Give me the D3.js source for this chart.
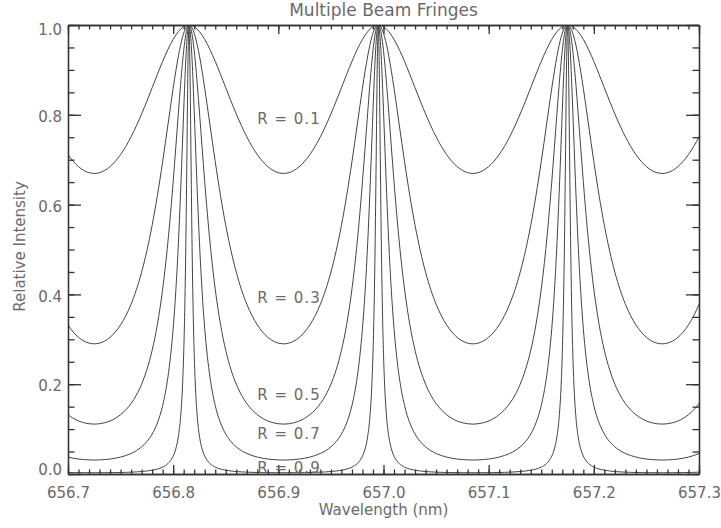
<!DOCTYPE html>
<html>
<head>
<meta charset="utf-8">
<script src="https://cdn.jsdelivr.net/npm/d3@7"></script>
<style>
  body { margin: 0; background: #fff; }
  svg { display: block; }
  text { font-family: "DejaVu Sans", sans-serif; fill: #6a6a6a; }
  .axis path, .axis line { stroke: #333; stroke-width: 1.3; }
  .curve { fill: none; stroke: #444; stroke-width: 1; }
</style>
</head>
<body>
<div id="container"></div>
<script>
// reflectivity of each fringe curve
let reflectivity = [0.1, 0.3, 0.5, 0.7, 0.9]
// fringe peak centres (nm), the outer two lie just off the plot
let peakCentres = [656.635, 656.815, 656.995, 657.175, 657.355]
// distance from a peak (nm) at which the intensity was read
let offsets = [0, 0.001, 0.002, 0.003, 0.004, 0.005, 0.006, 0.008, 0.010, 0.0125,
  0.015, 0.0175, 0.02, 0.025, 0.03, 0.035, 0.04, 0.045, 0.05, 0.055,
  0.06, 0.065, 0.07, 0.075, 0.08, 0.085, 0.09]
// relative intensity at those offsets, one array per R
let r01 = [1, 0.9998, 0.9994, 0.9986, 0.9976, 0.9963, 0.9946, 0.9905, 0.9853, 0.9774,
  0.9680, 0.9573, 0.9454, 0.9190, 0.8901, 0.8602, 0.8305, 0.8020, 0.7753, 0.7511,
  0.7297, 0.7114, 0.6964, 0.6846, 0.6762, 0.6711, 0.6694]
let r03 = [1, 0.9993, 0.9970, 0.9933, 0.9882, 0.9817, 0.9739, 0.9547, 0.9312, 0.8971,
  0.8591, 0.8187, 0.7773, 0.6957, 0.6203, 0.5538, 0.4971, 0.4495, 0.4103, 0.3783,
  0.3525, 0.3321, 0.3162, 0.3044, 0.2963, 0.2915, 0.2899]
let r05 = [1, 0.9976, 0.9904, 0.9786, 0.9625, 0.9427, 0.9196, 0.8658, 0.8057, 0.7274,
  0.6511, 0.5803, 0.5166, 0.4117, 0.3333, 0.2753, 0.2323, 0.2000, 0.1756, 0.1570,
  0.1429, 0.1321, 0.1240, 0.1181, 0.1142, 0.1119, 0.1111]
let r07 = [1, 0.9906, 0.9635, 0.9215, 0.8685, 0.8088, 0.7463, 0.6240, 0.5160, 0.4069,
  0.3242, 0.2623, 0.2156, 0.1525, 0.1139, 0.0890, 0.0722, 0.0604, 0.0519, 0.0457,
  0.0411, 0.0377, 0.0351, 0.0333, 0.0321, 0.0314, 0.0311]
let r09 = [1, 0.9012, 0.6952, 0.5035, 0.3634, 0.2678, 0.2027, 0.1254, 0.0843, 0.0560,
  0.0398, 0.0298, 0.0232, 0.0153, 0.0110, 0.0084, 0.0067, 0.0055, 0.0047, 0.0041,
  0.0037, 0.0034, 0.0031, 0.0030, 0.0029, 0.0028, 0.0028]
let profiles = [r01, r03, r05, r07, r09]
// where each "R = .." note sits, in data units
let labelX = 656.88
let labelY = [0.78, 0.38, 0.165, 0.078, 0.003]
let xTicks = [656.7, 656.8, 656.9, 657.0, 657.1, 657.2, 657.3]
let yTicks = [0.0, 0.2, 0.4, 0.6, 0.8, 1.0]

let width = 721,
  height = 528,
  margin = { top: 25, right: 22, bottom: 54, left: 68 },
  bodyWidth = width - margin.left - margin.right,
  bodyHeight = height - margin.top - margin.bottom

let xScale = d3.scaleLinear().domain([656.7, 657.3]).range([0, bodyWidth]),
  yScale = d3.scaleLinear().domain([0, 1]).range([bodyHeight, 0])

// lay the read profile around every peak
function fringe(profile) {
  let pts = []
  peakCentres.forEach(p => {
    for (let i = offsets.length - 1; i > 0; i--) pts.push([p - offsets[i], profile[i]])
    for (let i = 0; i < offsets.length; i++) pts.push([p + offsets[i], profile[i]])
  })
  return pts.filter((d, i) => i === 0 || Math.abs(d[0] - pts[i - 1][0]) > 1e-9)
}

let line = d3.line()
  .x(d => xScale(d[0]))
  .y(d => yScale(d[1]))
  .curve(d3.curveMonotoneX)

let svg = d3.select('#container')
  .append('svg')
  .attr('width', width)
  .attr('height', height)

svg.append('defs').append('clipPath').attr('id', 'plot')
  .append('rect').attr('width', bodyWidth).attr('height', bodyHeight)

let g = svg.append('g')
  .attr('transform', 'translate(' + margin.left + ', ' + margin.top + ')')

g.append('g')
  .attr('clip-path', 'url(#plot)')
  .selectAll('path')
  .data(profiles)
  .join('path')
  .attr('class', 'curve')
  .attr('d', d => line(fringe(d)))

// minor ticks
let xMinor = xScale.ticks(60), yMinor = yScale.ticks(20)
g.append('g').attr('class', 'axis').attr('transform', 'translate(0, ' + bodyHeight + ')')
  .call(d3.axisBottom(xScale).tickValues(xMinor).tickSize(-4.5).tickSizeOuter(0).tickFormat(''))
g.append('g').attr('class', 'axis')
  .call(d3.axisTop(xScale).tickValues(xMinor).tickSize(-4.5).tickSizeOuter(0).tickFormat(''))
g.append('g').attr('class', 'axis')
  .call(d3.axisLeft(yScale).tickValues(yMinor).tickSize(-6.5).tickSizeOuter(0).tickFormat(''))
g.append('g').attr('class', 'axis').attr('transform', 'translate(' + bodyWidth + ', 0)')
  .call(d3.axisRight(yScale).tickValues(yMinor).tickSize(-6.5).tickSizeOuter(0).tickFormat(''))

// major ticks
g.append('g').attr('class', 'axis').attr('transform', 'translate(0, ' + bodyHeight + ')')
  .call(d3.axisBottom(xScale).tickValues(xTicks).tickSize(-9).tickSizeOuter(0)
    .tickPadding(13).tickFormat(d3.format('.1f')))
g.append('g').attr('class', 'axis')
  .call(d3.axisTop(xScale).tickValues(xTicks).tickSize(-9).tickSizeOuter(0).tickFormat(''))
let yAxis = g.append('g').attr('class', 'axis')
  .call(d3.axisLeft(yScale).tickValues(yTicks).tickSize(-13).tickSizeOuter(0)
    .tickPadding(6).tickFormat(d3.format('.1f')))
g.append('g').attr('class', 'axis').attr('transform', 'translate(' + bodyWidth + ', 0)')
  .call(d3.axisRight(yScale).tickValues(yTicks).tickSize(-13).tickSizeOuter(0).tickFormat(''))

g.selectAll('.axis text').style('font-size', '15px').attr('font-family', null).attr('fill', null)
yAxis.selectAll('.tick text').attr('dy', d => d === 1 ? '0.62em' : d === 0 ? '0.05em' : '0.45em')

g.selectAll('.rlabel')
  .data(reflectivity)
  .join('text')
  .attr('class', 'rlabel')
  .attr('x', xScale(labelX))
  .attr('y', (d, i) => yScale(labelY[i]))
  .style('font-size', '15px')
  .style('letter-spacing', '1px')
  .text(d => 'R = ' + d3.format('.1f')(d))

g.append('text')
  .text('Multiple Beam Fringes')
  .attr('x', bodyWidth / 2)
  .attr('y', -9)
  .attr('text-anchor', 'middle')
  .style('font-size', '17px')

g.append('text')
  .text('Wavelength (nm)')
  .attr('x', bodyWidth / 2)
  .attr('y', bodyHeight + 41)
  .attr('text-anchor', 'middle')
  .style('font-size', '15px')

g.append('text')
  .text('Relative Intensity')
  .attr('transform', 'translate(' + (25 - margin.left) + ', ' + (bodyHeight / 2 - 3) + ') rotate(-90)')
  .attr('text-anchor', 'middle')
  .style('font-size', '15px')
</script>
</body>
</html>
